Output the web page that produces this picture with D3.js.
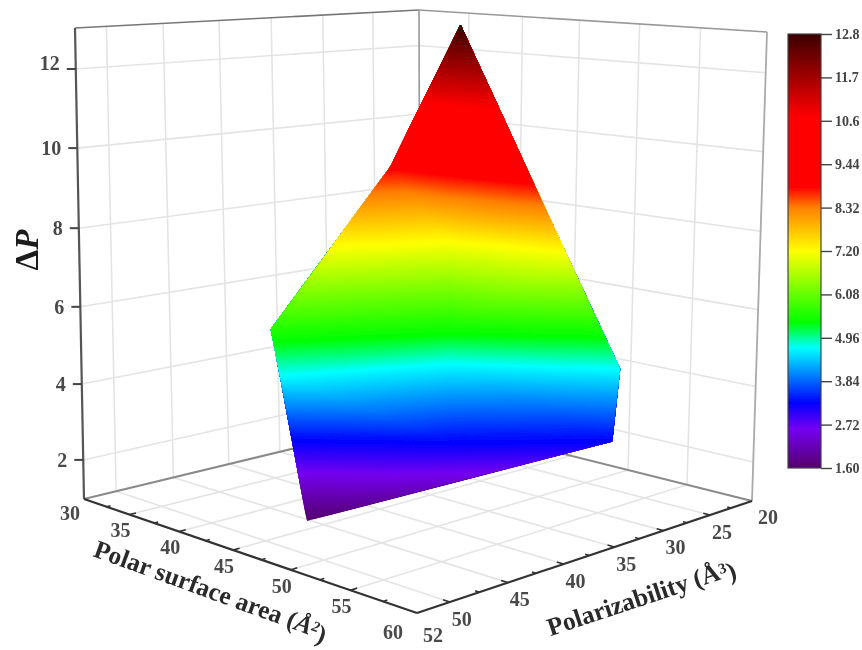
<!DOCTYPE html>
<html>
<head>
<meta charset="utf-8">
<script src="https://cdn.jsdelivr.net/npm/d3@7"></script>
<style>
body { margin: 0; background: #fff; }
text { font-family: "Liberation Serif", serif; }
</style>
</head>
<body>
<svg id="svg"></svg>
<script>
// axis ticks
const polarTicks = [30, 35, 40, 45, 50, 55, 60];
const polarMinor = [32.5, 37.5, 42.5, 47.5, 52.5, 57.5];
const polzTicks = [20, 25, 30, 35, 40, 45, 50, 52];
const polzMinor = [22.5, 27.5, 32.5, 37.5, 42.5, 47.5];
const deltaTicks = [2, 4, 6, 8, 10, 12];

// surface vertices
const surfPolar = [38.3, 34.7, 40.2, 42.9, 47.4, 58.2, 55.9, 49.1, 46.3, 39.9, 41.4, 46.8, 47.7, 51.8];
const surfPolz = [24.7, 28.0, 44.9, 46.7, 48.8, 32.9, 29.1, 26.4, 26.4, 27.6, 29.2, 35.2, 36.2, 40.8];
const surfDelta = [12.8, 8.9, 5.6, 4.7, 1.6, 3.28, 4.7, 7.2, 8.9, 8.9, 7.2, 5.35, 4.7, 3.28];
const surfOutline = [0, 1, 2, 3, 4, 5, 6, 7, 8];

// colour bar
const barTicks = [12.8, 11.68, 10.56, 9.44, 8.32, 7.2, 6.08, 4.96, 3.84, 2.72, 1.6];
const barLabels = ["12.8", "11.7", "10.6", "9.44", "8.32", "7.20", "6.08", "4.96", "3.84", "2.72", "1.60"];
const colourValues = [1.6, 2.6, 3.28, 4.7, 5.35, 7.2, 8.32, 8.85, 10.66, 12.8];
const colourNames = ["#55006e", "#7400f0", "#0000ff", "#00ffff", "#00ff00", "#ffff00", "#ff8000", "#ff0000", "#ff0000", "#3c0000"];

const width = 862;
const height = 650;
const svg = d3.select("#svg").attr("width", width).attr("height", height);

svg.append("defs").append("filter").attr("id", "soft")
    .append("feGaussianBlur").attr("stdDeviation", 0.75);

const chart = svg.append("g").attr("filter", "url(#soft)");

// The box is a perspective drawing, so the floor and the lid are each a unit square mapped to a quad
function quadMap(p) {
    const [x0, y0] = p[0], [x1, y1] = p[1], [x2, y2] = p[2], [x3, y3] = p[3];
    const dx1 = x1 - x2, dx2 = x3 - x2, dx3 = x0 - x1 + x2 - x3;
    const dy1 = y1 - y2, dy2 = y3 - y2, dy3 = y0 - y1 + y2 - y3;
    const den = dx1 * dy2 - dx2 * dy1;
    const g = (dx3 * dy2 - dx2 * dy3) / den, h = (dx1 * dy3 - dx3 * dy1) / den;
    const a = x1 - x0 + g * x1, b = x3 - x0 + h * x3, d = y1 - y0 + g * y1, e = y3 - y0 + h * y3;
    return (u, v) => {
        const w = g * u + h * v + 1;
        return [(a * u + b * v + x0) / w, (d * u + e * v + y0) / w];
    };
}
const floorMap = quadMap([[420, 418], [752, 501], [417, 613], [84, 499]]);
const lidMap = quadMap([[419, 10], [767, 32], [417, 55], [75, 28]]);

const polarScale = d3.scaleLinear().domain(polarTicks).range([0, 0.158, 0.322, 0.49, 0.66, 0.826, 1]);
const polzScale = d3.scaleLinear().domain(polzTicks).range([0, 0.146, 0.3, 0.454, 0.605, 0.762, 0.9165, 1]);
const deltaScale = d3.scaleLinear().domain([1, 2, 4, 6, 8, 10, 12, 13])
    .range([0, 0.083, 0.244, 0.408, 0.575, 0.745, 0.913, 1]);

function project(polar, polz, delta) {
    const u = polarScale(polar), v = polzScale(polz), w = deltaScale(delta);
    const a = floorMap(u, v), b = lidMap(u, v);
    return [a[0] + (b[0] - a[0]) * w, a[1] + (b[1] - a[1]) * w];
}

const line = d3.line();
function seg(pts, colour, sw) {
    chart.append("path").attr("d", line(pts)).attr("fill", "none")
        .attr("stroke", colour).attr("stroke-width", sw);
}

// grid lines on both walls and the floor
const gridColour = "#e4e4e4";
polzTicks.slice(1, 7).forEach(p => {
    seg([project(30, p, 1), project(30, p, 13)], gridColour, 1.6);
    seg([project(30, p, 1), project(60, p, 1)], gridColour, 1.6);
});
polarTicks.slice(1, 6).forEach(p => {
    seg([project(p, 20, 1), project(p, 20, 13)], gridColour, 1.6);
    seg([project(p, 20, 1), project(p, 52, 1)], gridColour, 1.6);
});
deltaTicks.forEach(z => {
    seg([project(30, 52, z), project(30, 20, z), project(60, 20, z)], gridColour, 1.6);
});

// box edges behind the surface
seg([project(30, 52, 13), project(30, 20, 13)], "#777", 1.6);
seg([project(30, 20, 13), project(60, 20, 13)], "#999", 1.6);
seg([project(60, 20, 13), project(60, 20, 1)], "#aaa", 1.8);
seg([project(30, 20, 1), project(30, 20, 13)], "#999", 1.6);
seg([project(30, 52, 1), project(30, 20, 1), project(60, 20, 1)], "#8a8a8a", 2);

// surface: triangulate the vertices, then paint each triangle upward in thin value steps
const colour = d3.scaleLinear().domain(colourValues).range(colourNames);
const verts = surfPolar.map((p, i) => ({ polar: p, polz: surfPolz[i], delta: surfDelta[i] }));
const screen = verts.map(d => project(d.polar, d.polz, d.delta));
const outline = surfOutline.map(i => screen[i]);
const tri = d3.Delaunay.from(screen).triangles;
const faces = [];
for (let i = 0; i < tri.length; i += 3) {
    const f = [tri[i], tri[i + 1], tri[i + 2]];
    const cx = d3.mean(f, k => screen[k][0]), cy = d3.mean(f, k => screen[k][1]);
    if (d3.polygonContains(outline, [cx, cy])) faces.push(f.map(k => verts[k]));
}

function clipAbove(face, level) {
    const out = [];
    face.forEach((a, i) => {
        const b = face[(i + 1) % face.length];
        if (a.delta >= level) out.push(a);
        if ((a.delta >= level) !== (b.delta >= level)) {
            const t = (level - a.delta) / (b.delta - a.delta);
            out.push({
                polar: a.polar + (b.polar - a.polar) * t,
                polz: a.polz + (b.polz - a.polz) * t,
                delta: level
            });
        }
    });
    return out;
}

const surface = chart.append("g");
d3.range(1.6, 12.8, 0.04).forEach(level => {
    let d = "";
    faces.forEach(f => {
        const part = clipAbove(f, level);
        if (part.length > 2) d += line(part.map(q => project(q.polar, q.polz, q.delta))) + "Z";
    });
    surface.append("path").attr("d", d).attr("fill", colour(level + 0.02))
        .attr("stroke", colour(level + 0.02)).attr("stroke-width", 0.3);
});

// front axes
seg([project(30, 52, 1), project(30, 52, 13)], "#555", 2.2);
seg([project(30, 52, 1), project(60, 52, 1)], "#333", 2.2);
seg([project(60, 20, 1), project(60, 52, 1)], "#333", 2.2);

// tick marks
polarTicks.slice(1, 6).forEach(p => seg([project(p, 52, 1), project(p, 51.6, 1)], "#333", 1.6));
polarMinor.forEach(p => seg([project(p, 52, 1), project(p, 51.75, 1)], "#333", 1.6));
polzTicks.slice(1, 7).forEach(p => seg([project(60, p, 1), project(59.5, p, 1)], "#333", 1.6));
polzMinor.forEach(p => seg([project(60, p, 1), project(59.7, p, 1)], "#333", 1.6));
deltaTicks.forEach(z => {
    const q = project(30, 52, z);
    seg([q, [q[0] - 9, q[1]]], "#444", 2);
});

function label(x, y, str, size, anchor) {
    return chart.append("text").attr("x", x).attr("y", y).attr("dy", "0.34em")
        .attr("text-anchor", anchor || "middle")
        .style("font-size", size + "px").style("font-weight", "bold").style("fill", "#4a4a4a").text(str);
}

deltaTicks.forEach(z => {
    const q = project(30, 52, z);
    label(q[0] - 16, z === 12 ? q[1] - 6 : q[1], z, 20, "end");
});
polarTicks.forEach(p => {
    const q = project(p, 52, 1);
    const dx = p === 30 ? -14 : p === 60 ? -24 : -9;
    const dy = p === 30 ? 14 : p === 60 ? 19 : 16;
    label(q[0] + dx, q[1] + dy, p, 20);
});
polzTicks.forEach(p => {
    const q = project(60, p, 1);
    const dx = p === 20 || p === 52 ? 16 : 12;
    const dy = p === 52 ? 22 : p === 20 ? 16 : 17;
    label(q[0] + dx, q[1] + dy, p, 20);
});

// axis titles
const zTitle = chart.append("text").attr("transform", "translate(27,250) rotate(-90)")
    .attr("text-anchor", "middle").attr("dy", "0.34em")
    .style("font-size", "33px").style("font-weight", "bold").style("fill", "#1a1a1a");
zTitle.append("tspan").text("Δ");
zTitle.append("tspan").style("font-style", "italic").text("P");

const xTitle = chart.append("text").attr("transform", "translate(211,590) rotate(20)")
    .attr("text-anchor", "middle").attr("dy", "0.34em")
    .style("font-size", "25.5px").style("font-weight", "bold").style("fill", "#2a2a2a");
xTitle.append("tspan").text("Polar surface area (");
xTitle.append("tspan").style("font-style", "italic").text("Å");
xTitle.append("tspan").attr("dy", "-0.35em").style("font-size", "15px").style("font-style", "italic").text("2");
xTitle.append("tspan").attr("dy", "0.35em").text(")");

const yTitle = chart.append("text").attr("transform", "translate(641,597) rotate(-18.4)")
    .attr("text-anchor", "middle").attr("dy", "0.34em")
    .style("font-size", "25.5px").style("font-weight", "bold").style("fill", "#2a2a2a");
yTitle.append("tspan").text("Polarizability (Å");
yTitle.append("tspan").attr("dy", "-0.35em").style("font-size", "15px").text("3");
yTitle.append("tspan").attr("dy", "0.35em").text(")");

// colour bar
const barScale = d3.scaleLinear().domain([1.6, 12.8]).range([468, 34]);
const grad = svg.select("defs").append("linearGradient").attr("id", "bar")
    .attr("x1", 0).attr("y1", 1).attr("x2", 0).attr("y2", 0);
colourValues.forEach((v, i) => {
    grad.append("stop").attr("offset", (v - 1.6) / 11.2).attr("stop-color", colourNames[i]);
});
chart.append("rect").attr("x", 788).attr("y", barScale(12.8)).attr("width", 33)
    .attr("height", barScale(1.6) - barScale(12.8))
    .attr("fill", "url(#bar)").attr("stroke", "#444").attr("stroke-width", 1.2);

const barAxis = chart.append("g").attr("transform", "translate(821,0)")
    .call(d3.axisRight(barScale).tickValues(barTicks).tickSize(11).tickPadding(3)
        .tickFormat((d, i) => barLabels[i]));
barAxis.select(".domain").remove();
barAxis.selectAll("line").attr("stroke", "#444").attr("stroke-width", 1.4);
barAxis.selectAll("text").style("font-size", "14px").style("font-weight", "bold")
    .style("font-family", "'Liberation Serif', serif").style("fill", "#444");
</script>
</body>
</html>
